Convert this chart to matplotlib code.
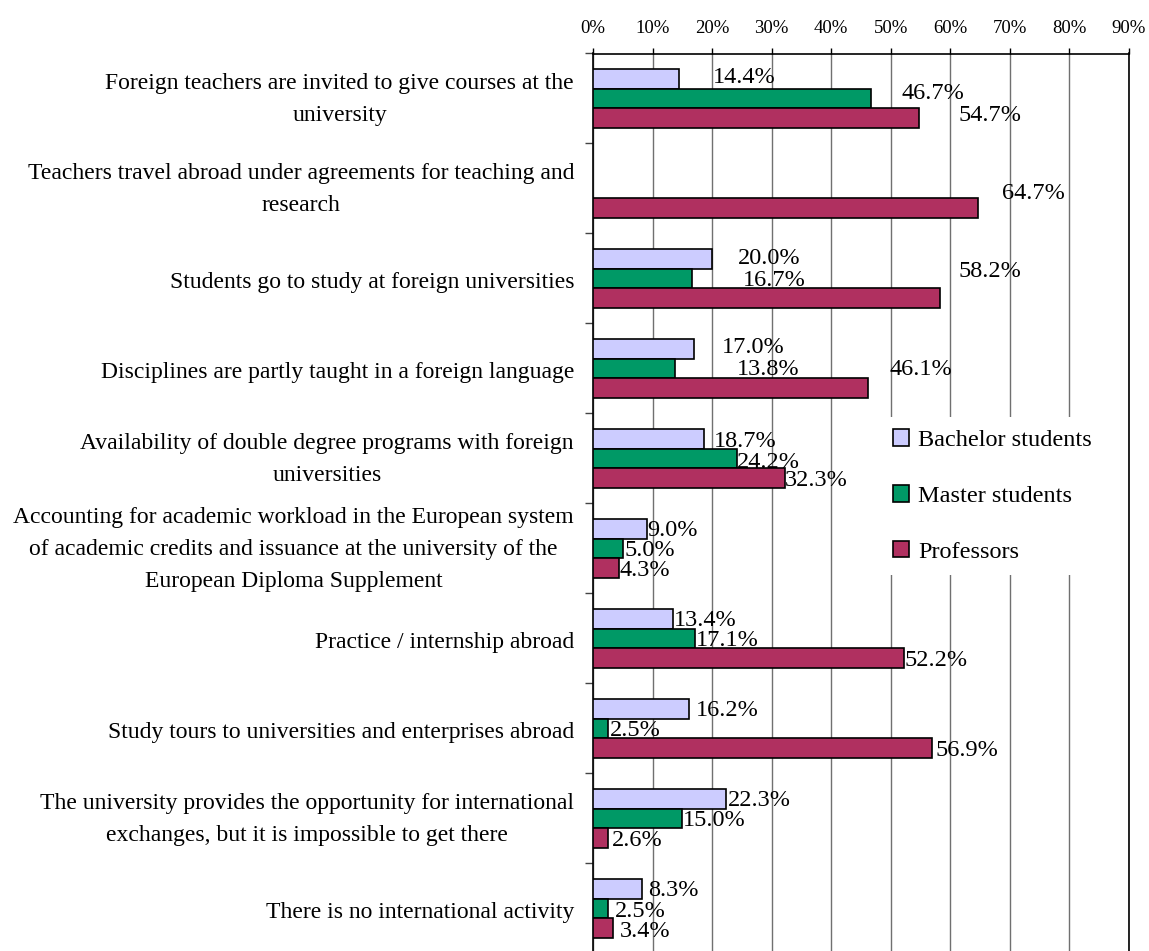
import matplotlib.pyplot as plt
import matplotlib.transforms as mtransforms
import numpy as np

plt.rcParams['font.family'] = ['Liberation Serif', 'DejaVu Serif']

categories = [
    "Foreign teachers are invited to give courses at the\nuniversity",
    "Teachers travel abroad under agreements for teaching and\nresearch",
    "Students go to study at foreign universities",
    "Disciplines are partly taught in a foreign language",
    "Availability of double degree programs with foreign\nuniversities",
    "Accounting for academic workload in the European system\nof academic credits and issuance at the university of the\nEuropean Diploma Supplement",
    "Practice / internship abroad",
    "Study tours to universities and enterprises abroad",
    "The university provides the opportunity for international\nexchanges, but it is impossible to get there",
    "There is no international activity",
]
series_names = ["Bachelor students", "Master students", "Professors"]
bachelor = [14.4, np.nan, 20.0, 17.0, 18.7, 9.0, 13.4, 16.2, 22.3, 8.3]
master = [46.7, np.nan, 16.7, 13.8, 24.2, 5.0, 17.1, 2.5, 15.0, 2.5]
professors = [54.7, 64.7, 58.2, 46.1, 32.3, 4.3, 52.2, 56.9, 2.6, 3.4]
x_ticks = [0, 10, 20, 30, 40, 50, 60, 70, 80, 90]

colors = ['#CCCCFF', '#009966', '#B03060']

# label nudges in pixels (dx right, dy down), per series per category
label_dx = [
    [34, 0, 26, 28, 9, 1, 1, 6, 2, 6],
    [30, 0, 50, 62, 0, 2, 1, 2, 1, 7],
    [40, 24, 19, 22, -1, 1, 1, 4, 3, 7],
]
label_dy = [
    [-1, 0, 0, -1, 3, 2, 2, 2, 2, 2],
    [-5, 0, 2, 1, 4, 2, 2, 2, 2, 3],
    [-3, -15, -27, -19, 2, 2, 2, 2, 2, 3],
]

fig = plt.figure(figsize=(11.49, 9.51), dpi=100)
ax = fig.add_axes([593 / 1149, -2.5 / 951, 536 / 1149, 900 / 951])

y = np.arange(len(categories))
bar_h = 0.222
offsets = [-bar_h, 0, bar_h]
all_vals = [bachelor, master, professors]

for s, (vals, name) in enumerate(zip(all_vals, series_names)):
    ax.barh(y + offsets[s], vals, height=bar_h, color=colors[s],
            edgecolor='black', linewidth=1.2, label=name, zorder=3)
    for i, v in enumerate(vals):
        if np.isnan(v):
            continue
        ax.annotate(f"{v:.1f}%", xy=(v, y[i] + offsets[s]),
                    xytext=(label_dx[s][i], -label_dy[s][i]),
                    textcoords='offset pixels', ha='left', va='center',
                    fontsize=17.5, zorder=4)

ax.set_xlim(0, 90)
ax.set_ylim(len(categories) - 0.5, -0.5)

ax.xaxis.tick_top()
ax.set_xticks(x_ticks)
ax.set_xticklabels([f"{t}%" for t in x_ticks], fontsize=13.5)
ax.tick_params(axis='x', direction='out', length=4, width=1, pad=8, color='black')
ax.grid(axis='x', color='#707070', linewidth=1, zorder=0)

# category labels drawn as text next to the left spine
ax.set_yticks(y)
ax.set_yticklabels([])
ax.tick_params(axis='y', which='major', length=0)
ax.set_yticks(np.arange(len(categories) + 1) - 0.5, minor=True)
ax.tick_params(axis='y', which='minor', length=6, width=1, color='#444444')
blend = mtransforms.blended_transform_factory(ax.transAxes, ax.transData)
for i, cat in enumerate(categories):
    up = -1 if '\n' in cat else -4
    tr = blend + mtransforms.ScaledTranslation(-19 / 100, up / 100, fig.dpi_scale_trans)
    ax.text(0, y[i], cat, transform=tr, ha='right', va='center',
            multialignment='center', linespacing=1.68, fontsize=17)

ax.spines['bottom'].set_visible(False)
for sp in ['top', 'left', 'right']:
    ax.spines[sp].set_color('black')
    ax.spines[sp].set_linewidth(1.2)

leg = ax.legend(loc='upper left', bbox_to_anchor=(881 / 1149, 1 - 417 / 951),
                bbox_transform=fig.transFigure, fontsize=17.5, frameon=True,
                facecolor='white', edgecolor='none', fancybox=False,
                framealpha=1, borderpad=0.5, borderaxespad=0,
                handlelength=0.67, handleheight=0.67, handletextpad=0.35,
                labelspacing=1.4)
leg.set_zorder(5)

fig.savefig('out.png', dpi=100)
